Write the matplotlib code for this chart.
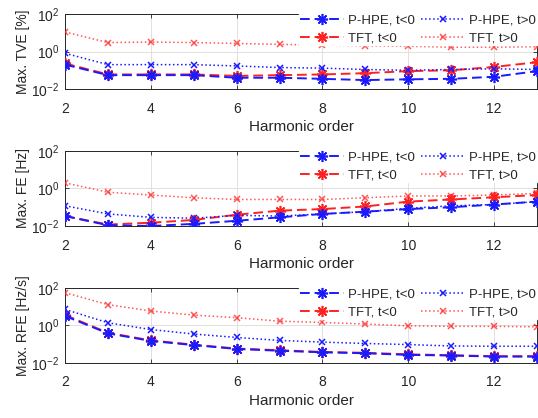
import numpy as np
import matplotlib
matplotlib.use("Agg")
import matplotlib.pyplot as plt

harmonics = np.arange(2, 14)

# Max. TVE [%]
tve_phpe_neg = [0.20, 0.055, 0.055, 0.055, 0.04, 0.04, 0.035, 0.03, 0.033, 0.035, 0.045, 0.09]
tve_phpe_pos = [0.8, 0.20, 0.20, 0.20, 0.17, 0.14, 0.13, 0.11, 0.10, 0.11, 0.12, 0.11]
tve_tft_neg = [0.23, 0.06, 0.06, 0.06, 0.05, 0.055, 0.06, 0.07, 0.09, 0.10, 0.15, 0.27]
tve_tft_pos = [11.0, 3.0, 3.2, 3.0, 2.7, 2.4, 2.2, 2.0, 1.9, 1.7, 1.7, 1.8]

# Max. FE [Hz]
fe_phpe_neg = [0.034, 0.011, 0.010, 0.013, 0.019, 0.029, 0.044, 0.058, 0.08, 0.10, 0.14, 0.20]
fe_phpe_pos = [0.12, 0.044, 0.029, 0.026, 0.037, 0.034, 0.044, 0.058, 0.087, 0.12, 0.14, 0.20]
fe_tft_neg = [0.034, 0.012, 0.015, 0.021, 0.04, 0.066, 0.08, 0.11, 0.20, 0.26, 0.34, 0.45]
fe_tft_pos = [2.0, 0.63, 0.45, 0.32, 0.26, 0.26, 0.26, 0.32, 0.40, 0.40, 0.45, 0.55]

# Max. RFE [Hz/s]
rfe_phpe_neg = [3.2, 0.38, 0.15, 0.09, 0.056, 0.045, 0.037, 0.033, 0.027, 0.025, 0.022, 0.022]
rfe_phpe_pos = [7.2, 1.4, 0.61, 0.35, 0.23, 0.16, 0.13, 0.11, 0.096, 0.081, 0.078, 0.078]
rfe_tft_neg = [3.6, 0.41, 0.16, 0.095, 0.059, 0.048, 0.039, 0.035, 0.029, 0.026, 0.023, 0.023]
rfe_tft_pos = [56, 13, 5.9, 3.6, 2.6, 1.7, 1.45, 1.2, 0.96, 0.9, 0.9, 0.85]

ylabels = ["Max. TVE [%]", "Max. FE [Hz]", "Max. RFE [Hz/s]"]
panels = [
    (tve_phpe_neg, tve_phpe_pos, tve_tft_neg, tve_tft_pos),
    (fe_phpe_neg, fe_phpe_pos, fe_tft_neg, fe_tft_pos),
    (rfe_phpe_neg, rfe_phpe_pos, rfe_tft_neg, rfe_tft_pos),
]

plt.rcParams.update({
    'font.family': ['Liberation Sans', 'DejaVu Sans'],
    'font.size': 9,
    'xtick.direction': 'in',
    'ytick.direction': 'in',
})

BLUE = '#1a1aff'
RED = '#ff2020'
TXT = '#262626'
ast = (8, 2, 0)
dash = (0, (5, 2.5))

fig = plt.figure(figsize=(5.38, 4.18), dpi=100)
rows = [(0.7870, 0.9665), (0.4593, 0.6388), (0.1316, 0.311)]
left, right = 0.121, 0.998

for (bot, top), ylab, (pn, pp, tn, tp) in zip(rows, ylabels, panels):
    ax = fig.add_axes([left, bot, right - left, top - bot])
    ax.plot(harmonics, pn, color=BLUE, ls=dash, lw=1.4, marker=ast, ms=8, mew=1.2,
            label='P-HPE, t<0', zorder=4)
    ax.plot(harmonics, tn, color=RED, ls=dash, lw=1.4, marker=ast, ms=8, mew=1.2,
            label='TFT, t<0', zorder=3)
    ax.plot(harmonics, pp, color=BLUE, ls=':', lw=1.1, marker='x', ms=5, mew=1.1,
            label='P-HPE, t>0', zorder=3)
    ax.plot(harmonics, tp, color=RED, ls=':', lw=1.1, marker='x', ms=5, mew=1.1,
            alpha=0.75, label='TFT, t>0', zorder=3)
    ax.set_yscale('log')
    ax.set_xlim(2, 13)
    ax.set_ylim(1e-2, 1e2)
    ax.set_xticks([2, 4, 6, 8, 10, 12])
    ax.set_yticks([1e-2, 1e0, 1e2])
    ax.yaxis.set_minor_locator(matplotlib.ticker.NullLocator())
    ax.grid(True, color='#dcdcdc', lw=0.6)
    ax.set_axisbelow(True)
    ax.tick_params(colors=TXT, labelsize=10, length=3, width=0.6, top=True, right=True)
    ax.tick_params(axis='x', pad=9)
    ax.tick_params(axis='y', pad=4)
    for s in ax.spines.values():
        s.set_color(TXT)
        s.set_linewidth(0.7)
    ax.set_xlabel('Harmonic order', color=TXT, fontsize=11, labelpad=3)
    ax.set_ylabel(ylab, color=TXT, fontsize=10, labelpad=1)
    leg = ax.legend(ncol=2, loc='upper right', frameon=True, fancybox=False,
                    edgecolor='white', framealpha=1, fontsize=9.5, handlelength=3.4,
                    borderaxespad=0.0, columnspacing=0.4, handletextpad=0.3,
                    labelspacing=0.4, borderpad=0.05)
    for t in leg.get_texts():
        t.set_color(TXT)

fig.savefig('out.png', dpi=100)
